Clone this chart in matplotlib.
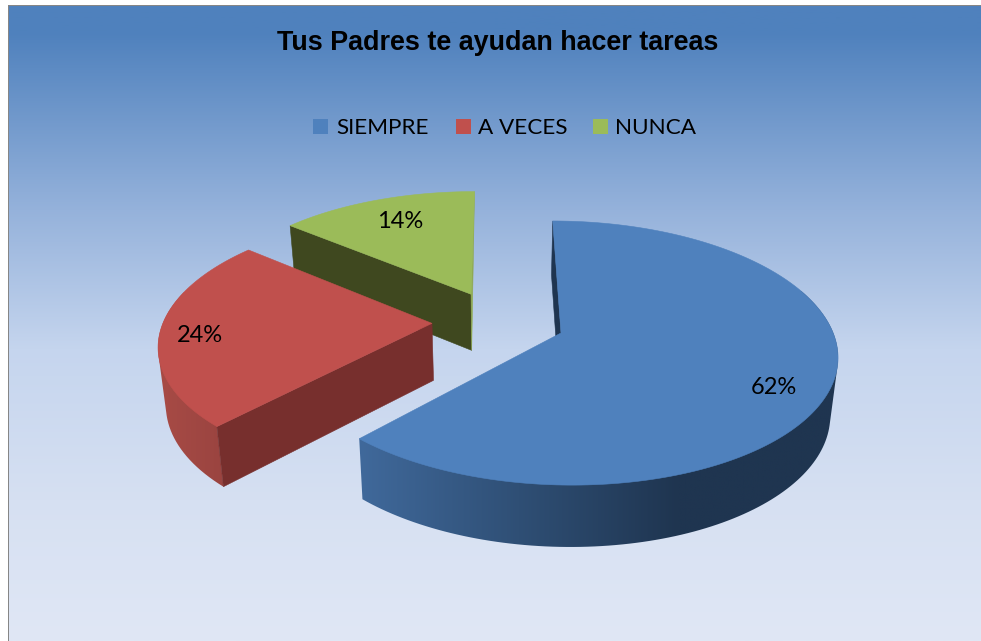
import numpy as np
from matplotlib import pyplot as plt
from matplotlib.colors import LinearSegmentedColormap
from matplotlib.patches import Polygon, Rectangle

title = 'Tus Padres te ayudan hacer tareas'
categories = ['SIEMPRE', 'A VECES', 'NUNCA']
values = [62, 24, 14]

top_colors = ['#4F81BD', '#C0504D', '#9BBB59']
cut_colors = ['#1F3550', '#772F2D', '#3F481F']
blue_wall = ['#40699B', '#2F4F75', '#1F3550', '#1F3550']
red_wall = ['#A84B46', '#9A4440']

# pie projection, in pixels of the 981x641 picture
cx, cy = 498.4, 321.4
radius = 268.5
explode = 66.4
flat = 0.4675
persp = 0.000558
drop = 57
start = 90


def project(u, v):
    w = 1 + persp * v
    return cx + u / w, cy - flat * v / w


def lower(x, y):
    return cx + 0.977 * (x - cx), y + drop + 0.03 * (y - 323)


def rim(apex, angles):
    a = np.radians(angles)
    return project(apex[0] + radius * np.cos(a), apex[1] + radius * np.sin(a))


def poly(ax, x, y, color, z):
    p = Polygon(np.column_stack([x, y]), closed=True, fc=color, ec=color, lw=0.4, zorder=z)
    ax.add_patch(p)
    return p


def hull(pts):
    # monotone chain, the outline of a wall between upper and lower rim
    pts = sorted(map(tuple, pts))
    def half(seq):
        out = []
        for p in seq:
            while len(out) > 1 and (out[-1][0]-out[-2][0])*(p[1]-out[-2][1]) - (out[-1][1]-out[-2][1])*(p[0]-out[-2][0]) <= 0:
                out.pop()
            out.append(p)
        return out[:-1]
    return np.array(half(pts) + half(pts[::-1]))


def side_wall(ax, tt, apex, colors, z):
    # outer wall of a slice, shaded from left to right and clipped to its outline
    tx, ty = rim(apex, tt)
    bx, by = lower(tx, ty)
    outline = hull(np.column_stack([np.r_[tx, bx], np.r_[ty, by]]))
    clip = Polygon(outline, closed=True, transform=ax.transData)
    cm = LinearSegmentedColormap.from_list('wall', colors)
    im = ax.imshow(np.linspace(0, 1, 256).reshape(1, -1), cmap=cm, aspect='auto', zorder=z,
                   extent=(outline[:, 0].min(), outline[:, 0].max(), outline[:, 1].max(), outline[:, 1].min()))
    im.set_clip_path(clip)
    return tx, ty, bx, by


fig = plt.figure(figsize=(9.81, 6.41), dpi=100)
ax = fig.add_axes((0, 0, 1, 1))

# background gradient
stops = [(0, '#4F81BD'), (0.04, '#4F81BD'), (0.32, '#95B2DB'), (0.54, '#C5D5EE'), (0.78, '#D6E0F2'), (1, '#E0E7F5')]
cmap = LinearSegmentedColormap.from_list('bg', stops)
ax.imshow(np.linspace(0, 1, 256).reshape(-1, 1), cmap=cmap, aspect='auto', extent=(9, 981, 641, 6), zorder=0)
ax.add_patch(Rectangle((8, 5), 973, 1.4, fc='#868686', ec='none', zorder=1))
ax.add_patch(Rectangle((8, 5), 1.4, 636, fc='#868686', ec='none', zorder=1))

# angle limits of each slice, clockwise from the top
ends = start - np.cumsum(values) * 3.6
begins = np.r_[start, ends[:-1]]
apexes = []
for b, e in zip(begins, ends):
    mid = np.radians((b + e) / 2)
    apexes.append((explode * np.cos(mid), explode * np.sin(mid)))

# green, back
b, e, apex = begins[2], ends[2], apexes[2]
px, py = project(*apex)
pbx, pby = lower(px, py)
lx, ly = rim(apex, np.array([b, e]))
lbx, lby = lower(lx, ly)
poly(ax, [px, lx[0], lbx[0], pbx], [py, ly[0], lby[0], pby], cut_colors[2], 2)
poly(ax, [lx[1], pbx, px], [ly[1], pby, py], '#8FAA52', 2)
tx, ty = rim(apex, np.linspace(b, e, 60))
poly(ax, np.r_[px, tx], np.r_[py, ty], top_colors[2], 3)

# red
b, e, apex = begins[1], ends[1], apexes[1]
px, py = project(*apex)
pbx, pby = lower(px, py)
tx, ty, bx, by = side_wall(ax, np.linspace(b, 165 - 360, 40), apex, red_wall, 4)
poly(ax, [px, tx[0], bx[0], pbx], [py, ty[0], by[0], pby], cut_colors[1], 5)
tx, ty = rim(apex, np.linspace(b, e, 80))
poly(ax, np.r_[px, tx], np.r_[py, ty], top_colors[1], 6)

# blue, front
b, e, apex = begins[0], ends[0], apexes[0]
px, py = project(*apex)
pbx, pby = lower(px, py)
lx, ly = rim(apex, np.array([b]))
lbx, lby = lower(lx, ly)
poly(ax, [px, lx[0], lbx[0], pbx], [py, ly[0], lby[0], pby], cut_colors[0], 7)
side_wall(ax, np.linspace(e, 20, 120), apex, blue_wall, 7)
tx, ty = rim(apex, np.linspace(b, e, 200))
poly(ax, np.r_[px, tx], np.r_[py, ty], top_colors[0], 8)

# texts
ax.text(498, 42.5, title, family='Liberation Sans', weight='bold', fontsize=19.4, color='black',
        ha='center', va='center', zorder=10)
for name, col, sq_x, txt_x in zip(categories, top_colors, [313, 456, 593], [336, 478, 615]):
    ax.add_patch(Rectangle((sq_x, 119), 15, 15, fc=col, ec='none', zorder=10))
    ax.text(txt_x, 128.5, name, family='Lato', fontsize=16.2, color='black', ha='left', va='center', zorder=10)
for v, lab_x, lab_y in zip(values, [774, 200, 400], [388, 336, 222]):
    ax.text(lab_x, lab_y, f'{v}%', family='Lato', fontsize=17, color='black', ha='center', va='center', zorder=10)

ax.set_xlim(0, 981)
ax.set_ylim(641, 0)
ax.axis('off')
fig.savefig('out.png', dpi=100, facecolor='white')
plt.close()
